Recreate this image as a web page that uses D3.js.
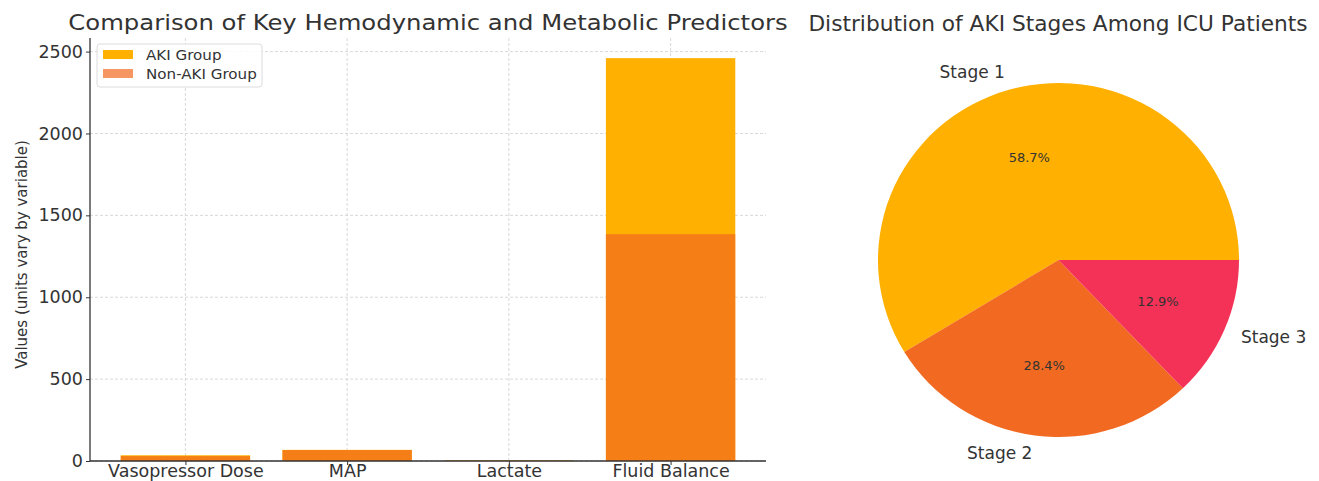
<!DOCTYPE html>
<html>
<head>
<meta charset="utf-8">
<script src="https://cdn.jsdelivr.net/npm/d3@7"></script>
<style>
  html, body { margin: 0; padding: 0; background: #fff; }
  svg { display: block; font-family: "DejaVu Sans", sans-serif; }
</style>
</head>
<body>
<svg id="chart" width="1319" height="481"></svg>
<script>
// Bar chart data
const predictors = ["Vasopressor Dose", "MAP", "Lactate", "Fluid Balance"];
const akiValues = [35, 68, 3.5, 2460];
const nonAkiValues = [30, 67, 2.0, 1385];
const seriesNames = ["AKI Group", "Non-AKI Group"];
const yTicks = [0, 500, 1000, 1500, 2000, 2500];

// Pie chart data
const stages = ["Stage 1", "Stage 2", "Stage 3"];
const stageShares = [58.7, 28.4, 12.9];

const akiColor = "#FFB000";
const nonAkiColor = "#F26A21";
const nonAkiAlpha = 0.7;
const stageColors = ["#FFB000", "#F26A21", "#F43257"];
const textColor = "#333333";
const gridColor = "#cfcfcf";
const fontFamily = "DejaVu Sans, sans-serif";

const svg = d3.select("#chart");

// ---------- Bar chart ----------
const plot = { left: 90, right: 766, top: 38, bottom: 461 };

// Band positions: bar width 0.8 of step, 5% outer margin of the bar extent
const step = (plot.right - plot.left) / (3 + 2 * 0.59);
const x = d3.scalePoint()
  .domain(predictors)
  .range([plot.left + 0.59 * step, plot.right - 0.59 * step]);
const barW = 0.8 * step;

const yMax = d3.max(akiValues.concat(nonAkiValues)) * 1.05;
const y = d3.scaleLinear().domain([0, yMax]).range([plot.bottom, plot.top]);

const gBar = svg.append("g");

// grid
gBar.append("g").selectAll("line.h")
  .data(yTicks)
  .join("line")
  .attr("x1", plot.left).attr("x2", plot.right)
  .attr("y1", d => y(d)).attr("y2", d => y(d))
  .attr("stroke", gridColor).attr("stroke-width", 0.8)
  .attr("stroke-dasharray", "3,2");
gBar.append("g").selectAll("line.v")
  .data(predictors)
  .join("line")
  .attr("x1", d => x(d)).attr("x2", d => x(d))
  .attr("y1", plot.top).attr("y2", plot.bottom)
  .attr("stroke", gridColor).attr("stroke-width", 0.8)
  .attr("stroke-dasharray", "3,2");

// AKI bars first, Non-AKI drawn over them with transparency
gBar.append("g").selectAll("rect")
  .data(predictors)
  .join("rect")
  .attr("x", d => x(d) - barW / 2)
  .attr("width", barW)
  .attr("y", (d, i) => y(akiValues[i]))
  .attr("height", (d, i) => y(0) - y(akiValues[i]))
  .attr("fill", akiColor);
gBar.append("g").selectAll("rect")
  .data(predictors)
  .join("rect")
  .attr("x", d => x(d) - barW / 2)
  .attr("width", barW)
  .attr("y", (d, i) => y(nonAkiValues[i]))
  .attr("height", (d, i) => y(0) - y(nonAkiValues[i]))
  .attr("fill", nonAkiColor)
  .attr("fill-opacity", nonAkiAlpha);

// axes
const yAxis = gBar.append("g")
  .attr("transform", `translate(${plot.left},0)`)
  .call(d3.axisLeft(y).tickValues(yTicks).tickSize(4).tickPadding(3).tickFormat(d3.format("d")));
const xAxis = gBar.append("g")
  .attr("transform", `translate(0,${plot.bottom})`)
  .call(d3.axisBottom(x).tickSize(4).tickPadding(0));
[yAxis, xAxis].forEach(a => {
  a.attr("font-family", fontFamily);
  a.select(".domain").attr("stroke", "#333").attr("stroke-width", 1.3);
  a.selectAll(".tick line").attr("stroke", "#333").attr("stroke-width", 1);
  a.selectAll(".tick text").attr("fill", textColor).style("font-size", "17.5px");
});
// axis lines span the full plot area
xAxis.select(".domain").attr("d", `M${plot.left},0H${plot.right}`);
yAxis.select(".domain").attr("d", `M0,${plot.bottom}V${plot.top}`);

// y label
gBar.append("text")
  .attr("transform", `translate(27,${(plot.top + plot.bottom) / 2 + 5}) rotate(-90)`)
  .attr("text-anchor", "middle")
  .attr("fill", textColor)
  .style("font-size", "15px")
  .text("Values (units vary by variable)");

// title (slightly widened lettering)
gBar.append("text")
  .attr("transform", `translate(${(plot.left + plot.right) / 2},30) scale(1.105,1)`)
  .attr("text-anchor", "middle")
  .attr("fill", textColor)
  .style("font-size", "22px")
  .text("Comparison of Key Hemodynamic and Metabolic Predictors");

// legend
const leg = gBar.append("g").attr("transform", "translate(97,44)");
leg.append("rect")
  .attr("width", 165).attr("height", 43).attr("rx", 3)
  .attr("fill", "#fff").attr("fill-opacity", 0.85)
  .attr("stroke", "#dcdcdc").attr("stroke-width", 1);
const legItems = leg.selectAll("g.item")
  .data(seriesNames)
  .join("g")
  .attr("transform", (d, i) => `translate(6,${6 + i * 19})`);
legItems.append("rect")
  .attr("width", 30).attr("height", 9)
  .attr("fill", (d, i) => i === 0 ? akiColor : nonAkiColor)
  .attr("fill-opacity", (d, i) => i === 0 ? 1 : nonAkiAlpha);
legItems.append("text")
  .attr("transform", "translate(43,9.5) scale(1.12,1)")
  .attr("fill", textColor)
  .style("font-size", "13.5px")
  .text(d => d);

// ---------- Pie chart ----------
const cx = 1058.5, cy = 260, rx = 180.5, ry = 177;
const gPie = svg.append("g").attr("transform", `translate(${cx},${cy})`);

// counter-clockwise from 3 o'clock
const pie = d3.pie().sort(null)
  .startAngle(Math.PI / 2)
  .endAngle(Math.PI / 2 - 2 * Math.PI);
const arcs = pie(stageShares);
const arc = d3.arc().innerRadius(0).outerRadius(rx);

gPie.append("g")
  .attr("transform", `scale(1,${ry / rx})`)
  .selectAll("path")
  .data(arcs)
  .join("path")
  .attr("d", arc)
  .attr("fill", (d, i) => stageColors[i]);

const mid = d => (d.startAngle + d.endAngle) / 2;
// outer labels at 1.1 r, anchored away from center
gPie.selectAll("text.lab")
  .data(arcs)
  .join("text")
  .attr("x", d => 1.1 * rx * Math.sin(mid(d)))
  .attr("y", d => -1.1 * ry * Math.cos(mid(d)))
  .attr("dy", "0.35em")
  .attr("text-anchor", d => Math.sin(mid(d)) > 0 ? "start" : "end")
  .attr("fill", textColor)
  .style("font-size", "17px")
  .text((d, i) => stages[i]);
// percentage labels at 0.6 r
gPie.selectAll("text.pct")
  .data(arcs)
  .join("text")
  .attr("x", d => 0.6 * rx * Math.sin(mid(d)))
  .attr("y", d => -0.6 * ry * Math.cos(mid(d)))
  .attr("dy", "0.35em")
  .attr("text-anchor", "middle")
  .attr("fill", textColor)
  .style("font-size", "13px")
  .text(d => d.data.toFixed(1) + "%");

svg.append("text")
  .attr("x", 1058)
  .attr("y", 31)
  .attr("text-anchor", "middle")
  .attr("fill", textColor)
  .style("font-size", "21.7px")
  .text("Distribution of AKI Stages Among ICU Patients");
</script>
</body>
</html>
